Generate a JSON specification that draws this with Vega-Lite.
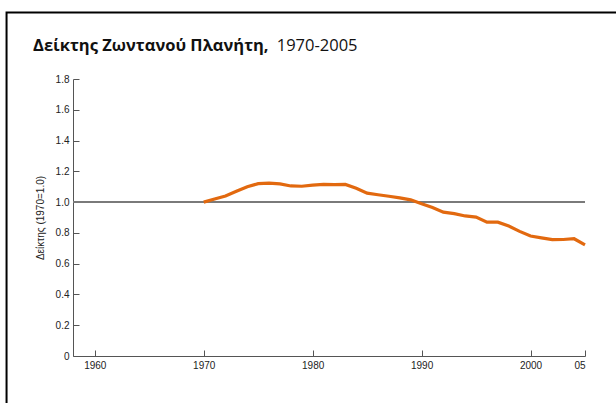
{
  "$schema": "https://vega.github.io/schema/vega-lite/v6.json",
  "width": 512,
  "height": 277,
  "autosize": {"type": "none"},
  "padding": {"left": 73, "top": 79, "right": 31, "bottom": 47},
  "background": "white",
  "config": {"view": {"stroke": null}},
  "resolve": {"axis": {"x": "independent", "y": "independent"}},
  "datasets": {
    "lpi": [
      {"year": 1970, "index": 1.0},
      {"year": 1971, "index": 1.02},
      {"year": 1972, "index": 1.04},
      {"year": 1973, "index": 1.07},
      {"year": 1974, "index": 1.1},
      {"year": 1975, "index": 1.12},
      {"year": 1976, "index": 1.123},
      {"year": 1977, "index": 1.118},
      {"year": 1978, "index": 1.105},
      {"year": 1979, "index": 1.103},
      {"year": 1980, "index": 1.11},
      {"year": 1981, "index": 1.115},
      {"year": 1982, "index": 1.113},
      {"year": 1983, "index": 1.115},
      {"year": 1984, "index": 1.09},
      {"year": 1985, "index": 1.058},
      {"year": 1986, "index": 1.048},
      {"year": 1987, "index": 1.038},
      {"year": 1988, "index": 1.028},
      {"year": 1989, "index": 1.015},
      {"year": 1990, "index": 0.99},
      {"year": 1991, "index": 0.965},
      {"year": 1992, "index": 0.935},
      {"year": 1993, "index": 0.925},
      {"year": 1994, "index": 0.91},
      {"year": 1995, "index": 0.903},
      {"year": 1996, "index": 0.87},
      {"year": 1997, "index": 0.87},
      {"year": 1998, "index": 0.845},
      {"year": 1999, "index": 0.81},
      {"year": 2000, "index": 0.78},
      {"year": 2001, "index": 0.768},
      {"year": 2002, "index": 0.756},
      {"year": 2003, "index": 0.757},
      {"year": 2004, "index": 0.762},
      {"year": 2005, "index": 0.722}
    ]
  },
  "layer": [
    {
      "data": {"values": [{}]},
      "mark": {"type": "rule", "color": "#7a7a7a", "strokeWidth": 2},
      "encoding": {
        "y": {"datum": 1.0, "type": "quantitative", "axis": null}
      }
    },
    {
      "data": {"name": "lpi"},
      "mark": {"type": "line", "color": "#E2690F", "strokeWidth": 3.2},
      "encoding": {
        "x": {
          "field": "year",
          "type": "quantitative",
          "scale": {"domain": [1958, 2005], "nice": false, "zero": false},
          "axis": {
            "title": null,
            "values": [1960, 1970, 1980, 1990, 2000, 2005],
            "labelExpr": "datum.value == 2005 ? '05' : datum.value",
            "labelOverlap": false,
            "grid": false,
            "domainColor": "#555555",
            "tickColor": "#555555",
            "tickSize": -6,
            "labelFont": "Liberation Sans",
            "labelFontSize": 10,
            "labelColor": "#222222",
            "labelPadding": 10
          }
        },
        "y": {
          "field": "index",
          "type": "quantitative",
          "scale": {"domain": [0, 1.8], "nice": false, "zero": false},
          "axis": {
            "title": "Δείκτης (1970=1.0)",
            "titleFont": "Liberation Sans",
            "titleFontSize": 10,
            "titleFontWeight": "normal",
            "titleColor": "#222222",
            "titlePadding": 10,
            "values": [0, 0.2, 0.4, 0.6, 0.8, 1.0, 1.2, 1.4, 1.6, 1.8],
            "labelExpr": "datum.value == 0 ? '0' : format(datum.value, '.1f')",
            "labelOverlap": false,
            "grid": false,
            "domainColor": "#555555",
            "tickColor": "#555555",
            "tickSize": -6,
            "labelFont": "Liberation Sans",
            "labelFontSize": 10,
            "labelColor": "#222222",
            "labelPadding": 10
          }
        }
      }
    },
    {
      "data": {"values": [{}]},
      "mark": {"type": "rect", "fill": null, "stroke": "#000000", "strokeWidth": 2, "clip": false},
      "encoding": {
        "x": {"datum": 1951.9, "type": "quantitative", "axis": null},
        "x2": {"datum": 2012},
        "y": {"datum": 2.232, "type": "quantitative", "axis": null},
        "y2": {"datum": -0.6}
      }
    },
    {
      "data": {"values": [{"label": "Δείκτης Ζωντανού Πλανήτη,", "year": 1954.33, "pos": 1.979}]},
      "mark": {"type": "text", "font": "Open Sans", "fontSize": 16.5, "fontWeight": "bold", "align": "left", "baseline": "alphabetic", "color": "#111111", "clip": false},
      "encoding": {
        "text": {"field": "label"},
        "x": {"field": "year", "type": "quantitative", "axis": null},
        "y": {"field": "pos", "type": "quantitative", "axis": null}
      }
    },
    {
      "data": {"values": [{"label": "1970-2005", "year": 1976.7, "pos": 1.979}]},
      "mark": {"type": "text", "font": "Open Sans", "fontSize": 16.5, "align": "left", "baseline": "alphabetic", "color": "#111111", "clip": false},
      "encoding": {
        "text": {"field": "label"},
        "x": {"field": "year", "type": "quantitative", "axis": null},
        "y": {"field": "pos", "type": "quantitative", "axis": null}
      }
    }
  ]
}
